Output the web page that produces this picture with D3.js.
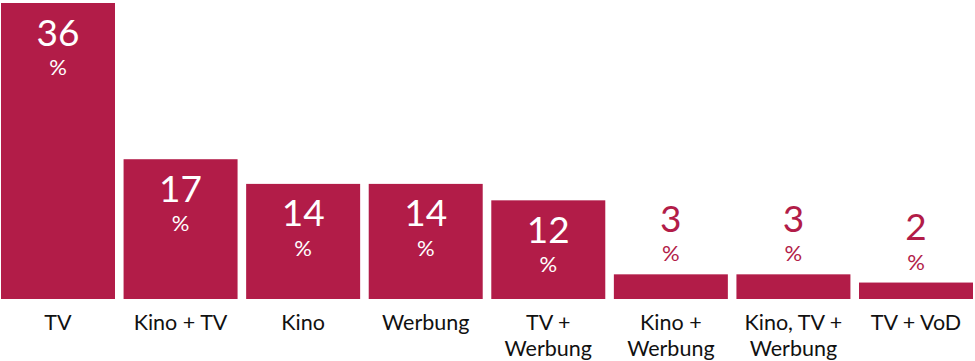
<!DOCTYPE html>
<html>
<head>
<meta charset="utf-8">
<script src="https://cdn.jsdelivr.net/npm/d3@7"></script>
<style>
  html, body { margin: 0; padding: 0; background: #fff; }
  svg { display: block; }
  text { font-family: "Lato", "Open Sans", sans-serif; }
</style>
</head>
<body>
<svg id="chart" width="975" height="361"></svg>
<script>
const categories = [["TV"], ["Kino + TV"], ["Kino"], ["Werbung"], ["TV +", "Werbung"], ["Kino +", "Werbung"], ["Kino, TV +", "Werbung"], ["TV + VoD"]];
const values = [36, 17, 14, 14, 12, 3, 3, 2];
const unit = "%";

const W = 975, H = 361;
const barColor = "#b21c48";
const svg = d3.select("#chart");

const idx = d3.range(values.length);
const x = d3.scaleBand().domain(idx).range([1, 973]).paddingInner(0.07).paddingOuter(0);
const y = d3.scaleLinear().domain([0, 36]).range([299, 3]);

svg.selectAll("rect.bar").data(idx).join("rect")
  .attr("class", "bar")
  .attr("x", i => x(i))
  .attr("width", x.bandwidth())
  .attr("y", i => y(values[i]))
  .attr("height", i => y(0) - y(values[i]))
  .attr("fill", barColor);

const inside = v => (y(0) - y(v)) > 80;

const lab = svg.selectAll("g.lab").data(idx).join("g").attr("class", "lab");
lab.append("text")
  .attr("x", i => x(i) + x.bandwidth() / 2)
  .attr("y", i => inside(values[i]) ? y(values[i]) + 42.5 : y(values[i]) - 42.5)
  .attr("text-anchor", "middle")
  .attr("font-size", 37)
  .attr("fill", i => inside(values[i]) ? "#fff" : barColor)
  .text(i => values[i]);
lab.append("text")
  .attr("x", i => x(i) + x.bandwidth() / 2)
  .attr("y", i => inside(values[i]) ? y(values[i]) + 72 : y(values[i]) - 13)
  .attr("text-anchor", "middle")
  .attr("font-size", 22)
  .attr("fill", i => inside(values[i]) ? "#fff" : barColor)
  .text(unit);

const cat = svg.selectAll("text.cat").data(idx).join("text")
  .attr("class", "cat")
  .attr("text-anchor", "middle")
  .attr("font-size", 21.5)
  .attr("fill", "#111");
cat.selectAll("tspan").data(i => categories[i].map(t => ({t, i}))).join("tspan")
  .attr("x", d => x(d.i) + x.bandwidth() / 2)
  .attr("y", (d, k) => 330 + k * 26)
  .text(d => d.t);
</script>
</body>
</html>
